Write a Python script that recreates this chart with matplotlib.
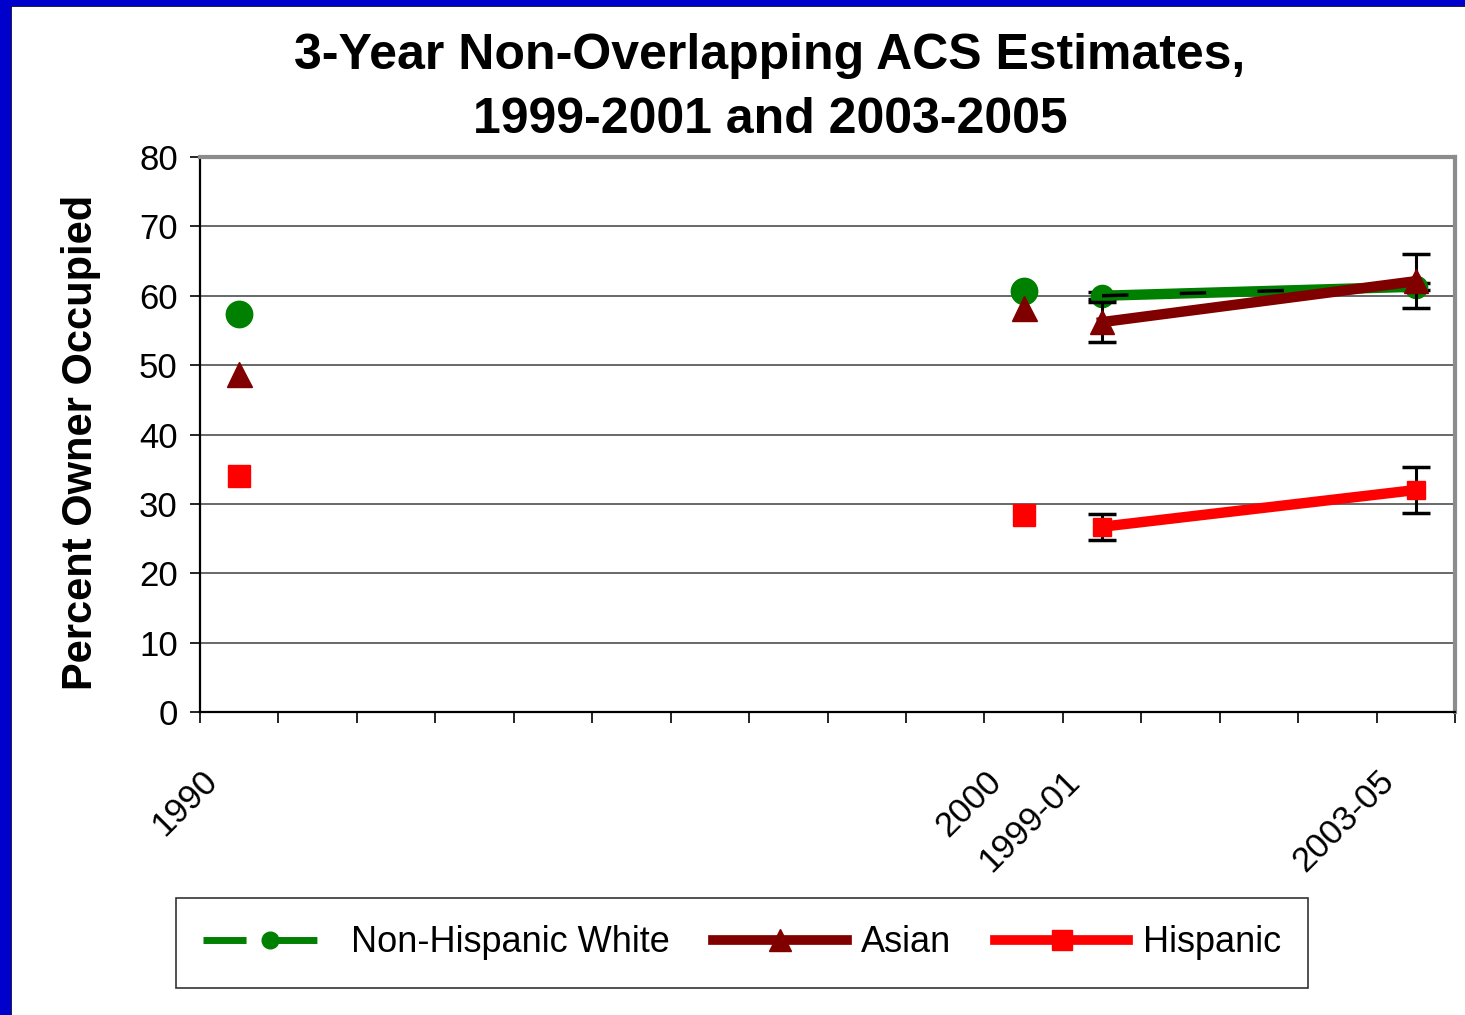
import matplotlib
matplotlib.use("Agg")
import matplotlib.pyplot as plt
from matplotlib.lines import Line2D
from matplotlib.patches import Rectangle
from matplotlib.transforms import ScaledTranslation, blended_transform_factory
import numpy as np

plt.rcParams["font.family"] = ["Liberation Sans", "DejaVu Sans"]
plt.rcParams["lines.scale_dashes"] = False

# category axis (16 slots, only four are labelled)
categories = ["1990", "", "", "", "", "", "", "", "", "",
              "2000", "1999-01", "", "", "", "2003-05"]
census_idx = [0, 10]      # 1990, 2000 decennial census points
acs_idx = [11, 15]        # 1999-01, 2003-05 ACS estimates

white_census = [57.4, 60.7]
white_acs = [60.0, 61.3]
white_err = [0.5, 0.5]

asian_census = [48.7, 58.2]
asian_acs = [56.2, 62.1]
asian_err = [2.9, 3.9]

hisp_census = [34.0, 28.4]
hisp_acs = [26.7, 32.0]
hisp_err = [1.9, 3.3]

GREEN, MAROON, RED = "#008000", "#800000", "#FF0000"

fig = plt.figure(figsize=(14.65, 10.15), dpi=100)
ax = fig.add_axes([200 / 1465, 1 - 712 / 1015, 1255 / 1465, 555 / 1015])

x = np.arange(len(categories))
cx = x[census_idx]
ax_ = x[acs_idx]

eb = dict(ecolor="black", elinewidth=2.2, capsize=10, capthick=2.5)

# Non-Hispanic White
ax.plot(cx, white_census, "o", color=GREEN, ms=19, zorder=5)
ax.errorbar(ax_, white_acs, yerr=white_err, color=GREEN, lw=7.5, marker="o", ms=16,
            zorder=4, **eb)
ax.plot(ax_, white_acs, color="black", lw=2.5, dashes=(19, 37), dash_capstyle="butt",
        zorder=4.5)

# Asian
ax.plot(cx, asian_census, "^", color=MAROON, ms=18, zorder=5)
ax.errorbar(ax_, asian_acs, yerr=asian_err, color=MAROON, lw=7.5, marker="^", ms=17,
            zorder=5, **eb)

# Hispanic
ax.plot(cx, hisp_census, "s", color=RED, ms=16, zorder=5)
ax.errorbar(ax_, hisp_acs, yerr=hisp_err, color=RED, lw=7.5, marker="s", ms=13,
            zorder=5, **eb)

ax.set_xlim(-0.5, len(categories) - 0.5)
ax.set_ylim(0, 80)
ax.set_yticks(np.arange(0, 81, 10))
ax.tick_params(axis="y", labelsize=25, length=7, width=1.2, pad=9, direction="out")
ax.set_xticks(np.arange(-0.5, len(categories), 1))
ax.set_xticklabels([])
ax.tick_params(axis="x", length=8, width=1.2, direction="out")
ax.yaxis.grid(True, color="#404040", lw=1.1)
ax.set_axisbelow(True)
for s in ("left", "bottom"):
    ax.spines[s].set_color("black")
    ax.spines[s].set_linewidth(1.6)
for s in ("top", "right"):
    ax.spines[s].set_color("#8c8c8c")
    ax.spines[s].set_linewidth(3)

# rotated category labels
trans = blended_transform_factory(ax.transData, ax.transAxes) + \
    ScaledTranslation(-0.27, -0.64, fig.dpi_scale_trans)
for i, lab in enumerate(categories):
    if lab:
        ax.text(i, 0, lab, transform=trans, rotation=45, ha="right", va="center",
                rotation_mode="anchor", fontsize=25)

fig.text(81 / 1465, 1 - 442 / 1015, "Percent Owner Occupied", rotation=90,
         ha="center", va="center", fontsize=30, fontweight="bold")
fig.text(770 / 1465, 1 - 88 / 1015, "3-Year Non-Overlapping ACS Estimates,\n1999-2001 and 2003-2005",
         ha="center", va="center", fontsize=36, fontweight="bold", linespacing=1.5)

handles = [
    Line2D([], [], color=GREEN, lw=5, dashes=(31, 20), marker="o", ms=12),
    Line2D([], [], color=MAROON, lw=7, marker="^", ms=16),
    Line2D([], [], color=RED, lw=7, marker="s", ms=15),
]
leg = fig.legend(handles, ["Non-Hispanic White", "Asian", "Hispanic"],
                 loc="center", bbox_to_anchor=(742 / 1465, 1 - 943 / 1015), ncol=3,
                 fontsize=26, frameon=True, fancybox=False, edgecolor="black",
                 handlelength=3.7, handletextpad=0.4, columnspacing=1.2,
                 borderpad=0.75, borderaxespad=0)
leg.get_frame().set_linewidth(1.2)

# slide border (blue strips at left and top)
fig.patches.append(Rectangle((0, 0), 10 / 1465, 1, transform=fig.transFigure,
                             color="#0000CC", zorder=10))
fig.patches.append(Rectangle((0, 1 - 5 / 1015), 1, 5 / 1015, transform=fig.transFigure,
                             color="#0000CC", zorder=10))
fig.add_artist(Line2D([10.5 / 1465] * 2, [0, 1 - 5 / 1015], transform=fig.transFigure,
                      color="black", lw=1.2))
fig.add_artist(Line2D([10 / 1465, 1], [1 - 5.5 / 1015] * 2, transform=fig.transFigure,
                      color="black", lw=1.2))

fig.savefig("out.png", dpi=100)
